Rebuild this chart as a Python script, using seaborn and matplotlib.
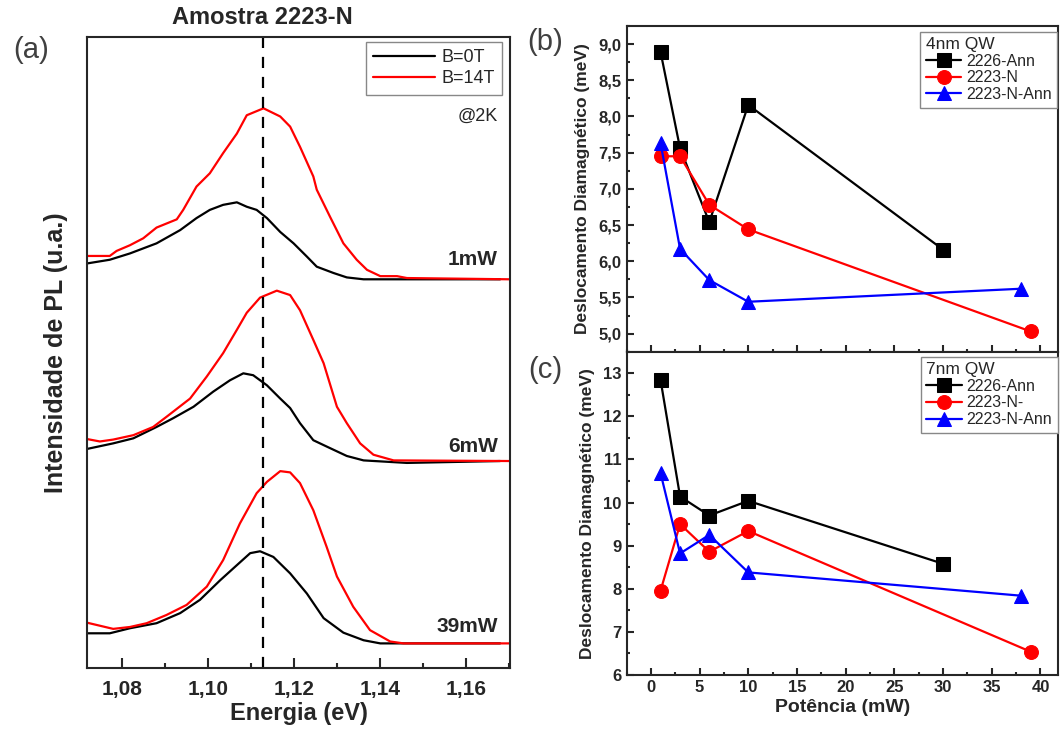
import numpy as np
import pandas as pd
import matplotlib
matplotlib.use("Agg")
import matplotlib.pyplot as plt
import seaborn as sns
from matplotlib.ticker import FuncFormatter, MultipleLocator
from matplotlib.lines import Line2D

# ---------------- data: PL spectra (panel a) ----------------
E_b0_1 = [1.0717, 1.0771, 1.0818, 1.0880, 1.0935, 1.0973, 1.1004, 1.1035, 1.1067, 1.1090,
          1.1113, 1.1137, 1.1168, 1.1199, 1.1230, 1.1253, 1.1292, 1.1323, 1.1362, 1.1680]
I_b0_1 = [64.1, 64.7, 65.7, 67.3, 69.4, 71.3, 72.6, 73.4, 73.8, 73.1,
          72.6, 71.3, 69.1, 67.3, 65.2, 63.6, 62.6, 61.9, 61.6, 61.6]
E_b14_1 = [1.0717, 1.0771, 1.0787, 1.0818, 1.0849, 1.0880, 1.0927, 1.0942, 1.0973, 1.1004,
           1.1035, 1.1067, 1.1090, 1.1129, 1.1168, 1.1191, 1.1214, 1.1245, 1.1253, 1.1284,
           1.1315, 1.1346, 1.1370, 1.1401, 1.1440, 1.1463, 1.1704]
I_b14_1 = [65.3, 65.3, 66.1, 67.0, 68.1, 69.8, 71.1, 72.6, 76.3, 78.4,
           81.6, 84.7, 87.6, 88.7, 87.4, 85.8, 82.6, 77.9, 75.8, 71.5,
           67.3, 64.7, 63.1, 62.1, 62.1, 61.8, 61.6]

E_b0_6 = [1.0717, 1.0779, 1.0826, 1.0880, 1.0919, 1.0966, 1.1012, 1.1051, 1.1082, 1.1105,
          1.1137, 1.1168, 1.1191, 1.1214, 1.1245, 1.1276, 1.1323, 1.1362, 1.1463, 1.1680]
I_b0_6 = [34.7, 35.6, 36.4, 38.2, 39.6, 41.4, 43.8, 45.6, 46.7, 46.4,
          44.8, 42.7, 41.2, 38.8, 36.1, 35.1, 33.6, 32.9, 32.5, 32.8]
E_b14_6 = [1.0717, 1.0748, 1.0779, 1.0826, 1.0872, 1.0903, 1.0958, 1.0997, 1.1035, 1.1067,
           1.1090, 1.1121, 1.1160, 1.1191, 1.1214, 1.1245, 1.1269, 1.1300, 1.1323, 1.1354,
           1.1385, 1.1432, 1.1704]
I_b14_6 = [36.3, 35.9, 36.2, 36.9, 38.2, 39.8, 42.7, 46.2, 49.9, 53.6,
           56.3, 58.7, 59.8, 59.1, 56.7, 52.0, 48.3, 41.4, 38.8, 35.6,
           33.8, 32.9, 32.8]

E_b0_39 = [1.0717, 1.0771, 1.0818, 1.0880, 1.0935, 1.0981, 1.1028, 1.1067, 1.1098, 1.1121,
           1.1152, 1.1191, 1.1230, 1.1269, 1.1315, 1.1362, 1.1401, 1.1680]
I_b0_39 = [5.5, 5.5, 6.3, 7.1, 8.7, 10.8, 13.9, 16.3, 18.2, 18.5,
           17.6, 15.0, 11.8, 7.9, 5.6, 4.4, 3.9, 3.9]
E_b14_39 = [1.0717, 1.0748, 1.0779, 1.0818, 1.0857, 1.0903, 1.0950, 1.0997, 1.1035, 1.1074,
            1.1113, 1.1137, 1.1168, 1.1191, 1.1214, 1.1245, 1.1276, 1.1300, 1.1338, 1.1377,
            1.1424, 1.1455, 1.1704]
I_b14_39 = [7.2, 6.7, 6.2, 6.5, 7.1, 8.4, 10.0, 12.9, 17.1, 22.9,
            27.7, 29.5, 31.2, 31.0, 29.3, 25.0, 19.2, 14.5, 9.7, 6.0,
            4.2, 3.9, 3.9]

power_labels = ["1mW", "6mW", "39mW"]
power_label_y = [64.7, 35.1, 6.5]
E_ref = 1.1128
x_ticks_a = [1.08, 1.10, 1.12, 1.14, 1.16]

# ---------------- data: diamagnetic shift (panels b, c) ----------------
P_2226_4 = [1, 3, 6, 10, 30]
D_2226_4 = [8.89, 7.56, 6.54, 8.16, 6.16]
P_2223_4 = [1, 3, 6, 10, 39]
D_2223_4 = [7.45, 7.45, 6.78, 6.44, 5.03]
P_2223A_4 = [1, 3, 6, 10, 38]
D_2223A_4 = [7.63, 6.17, 5.74, 5.44, 5.62]

P_2226_7 = [1, 3, 6, 10, 30]
D_2226_7 = [12.84, 10.14, 9.70, 10.04, 8.58]
P_2223_7 = [1, 3, 6, 10, 39]
D_2223_7 = [7.96, 9.50, 8.86, 9.34, 6.54]
P_2223A_7 = [1, 3, 6, 10, 38]
D_2223A_7 = [10.68, 8.82, 9.25, 8.38, 7.84]

names_b = ["2226-Ann", "2223-N", "2223-N-Ann"]
names_c = ["2226-Ann", "2223-N-", "2223-N-Ann"]

# ---------------- style ----------------
sns.set_style("ticks")
plt.rcParams['font.family'] = ['Liberation Sans', 'DejaVu Sans']
plt.rcParams['axes.linewidth'] = 1.5

fig = plt.figure(figsize=(10.6, 7.31), dpi=100)
W, H = 1060, 731


def ax_rect(x0, y0, x1, y1):
    return [x0 / W, 1 - y1 / H, (x1 - x0) / W, (y1 - y0) / H]


ax_a = fig.add_axes(ax_rect(87, 37, 510, 668))
ax_b = fig.add_axes(ax_rect(626.5, 26, 1058, 351.7))
ax_c = fig.add_axes(ax_rect(626.5, 351.7, 1058, 675))

comma = lambda fmt: FuncFormatter(lambda v, p: (fmt % v).replace('.', ','))

# ---------------- panel (a) ----------------
spectra = [(E_b0_1, I_b0_1, E_b14_1, I_b14_1),
           (E_b0_6, I_b0_6, E_b14_6, I_b14_6),
           (E_b0_39, I_b0_39, E_b14_39, I_b14_39)]
for e0, i0, e14, i14 in spectra:
    sns.lineplot(x=e0, y=i0, ax=ax_a, color='black', lw=1.6, sort=False, estimator=None)
    sns.lineplot(x=e14, y=i14, ax=ax_a, color='#ff0000', lw=1.6, sort=False, estimator=None)

ax_a.axvline(E_ref, color='black', ls=(0, (5, 4)), lw=1.6)
for lab, yy in zip(power_labels, power_label_y):
    ax_a.text(1.1675, yy, lab, ha='right', va='center', fontsize=15, fontweight='bold')
ax_a.text(1.1675, 87.5, "@2K", ha='right', va='center', fontsize=13)

ax_a.set_xlim(1.0718, 1.1703)
ax_a.set_ylim(0, 100)
ax_a.set_xticks(x_ticks_a)
ax_a.xaxis.set_major_formatter(comma('%.2f'))
ax_a.xaxis.set_minor_locator(MultipleLocator(0.01))
ax_a.set_yticks([])
ax_a.tick_params(axis='x', which='major', direction='in', length=7, width=1.5,
                 labelsize=15, pad=9)
ax_a.tick_params(axis='x', which='minor', direction='in', length=3.5, width=1.5)
for lbl in ax_a.get_xticklabels():
    lbl.set_fontweight('bold')
ax_a.set_xlabel("Energia (eV)", fontsize=17, fontweight='bold', labelpad=2)
ax_a.set_ylabel("Intensidade de PL (u.a.)", fontsize=18, fontweight='bold', labelpad=14)

h = [Line2D([], [], color='black', lw=1.6), Line2D([], [], color='#ff0000', lw=1.6)]
leg = ax_a.legend(h, ["B=0T", "B=14T"], loc='upper right', bbox_to_anchor=(0.982, 0.9925),
                  borderaxespad=0, fontsize=13, frameon=True, fancybox=False,
                  edgecolor='#888888', framealpha=1, handlelength=3.4, handletextpad=0.4,
                  labelspacing=0.25, borderpad=0.4)
leg.get_frame().set_linewidth(1.0)

# ---------------- panels (b), (c) ----------------
series_styles = [('black', 's'), ('#ff0000', 'o'), ('#0000ff', '^')]


def shift_panel(ax, data, names, title, anchor):
    for (px, dy), (col, mk), nm in zip(data, series_styles, names):
        sns.lineplot(x=px, y=dy, ax=ax, color=col, marker=mk, markersize=10,
                     markeredgecolor=col, lw=1.6, label=nm, sort=False, estimator=None)
    ax.set_xlim(-2.5, 41.8)
    ax.xaxis.set_major_locator(MultipleLocator(5))
    ax.xaxis.set_minor_locator(MultipleLocator(2.5))
    ax.tick_params(which='major', direction='in', length=5, width=1.5, labelsize=12)
    ax.tick_params(which='minor', direction='in', length=2.5, width=1.5)
    lg = ax.legend(title=title, loc='upper right', bbox_to_anchor=anchor, borderaxespad=0,
                   fontsize=11.5, title_fontsize=12.5, frameon=True, fancybox=False,
                   edgecolor='#888888', framealpha=1, handlelength=2.2, handletextpad=0.3,
                   labelspacing=0.1, borderpad=0.35, alignment='left', markerscale=1.0)
    lg.get_frame().set_linewidth(1.0)
    ax.set_ylabel("Deslocamento Diamagnético (meV)", fontsize=12.5, fontweight='bold', labelpad=6)
    for lbl in ax.get_xticklabels() + ax.get_yticklabels():
        lbl.set_fontweight('bold')


shift_panel(ax_b, [(P_2226_4, D_2226_4), (P_2223_4, D_2223_4), (P_2223A_4, D_2223A_4)],
            names_b, "4nm QW", (0.998, 0.983))
ax_b.set_ylim(4.75, 9.25)
ax_b.yaxis.set_major_locator(MultipleLocator(0.5))
ax_b.yaxis.set_minor_locator(MultipleLocator(0.25))
ax_b.yaxis.set_major_formatter(comma('%.1f'))
ax_b.tick_params(labelbottom=False)
for lbl in ax_b.get_yticklabels():
    lbl.set_fontweight('bold')
ax_b.set_xlabel("")

shift_panel(ax_c, [(P_2226_7, D_2226_7), (P_2223_7, D_2223_7), (P_2223A_7, D_2223A_7)],
            names_c, "7nm QW", (0.999, 0.9845))
ax_c.set_ylim(6, 13.5)
ax_c.yaxis.set_major_locator(MultipleLocator(1))
ax_c.yaxis.set_minor_locator(MultipleLocator(0.5))
ax_c.set_xlabel("Potência (mW)", fontsize=14, fontweight='bold', labelpad=3)
for lbl in ax_c.get_xticklabels() + ax_c.get_yticklabels():
    lbl.set_fontweight('bold')

# ---------------- figure texts ----------------
fig.text(262 / W, 1 - 18 / H, "Amostra 2223-N", ha='center', va='center',
         fontsize=17, fontweight='bold')
fig.text(31 / W, 1 - 50 / H, "(a)", ha='center', va='center', fontsize=21, color='#404040')
fig.text(545 / W, 1 - 42 / H, "(b)", ha='center', va='center', fontsize=21, color='#404040')
fig.text(545 / W, 1 - 370 / H, "(c)", ha='center', va='center', fontsize=21, color='#404040')

fig.savefig("out.png", dpi=100)
